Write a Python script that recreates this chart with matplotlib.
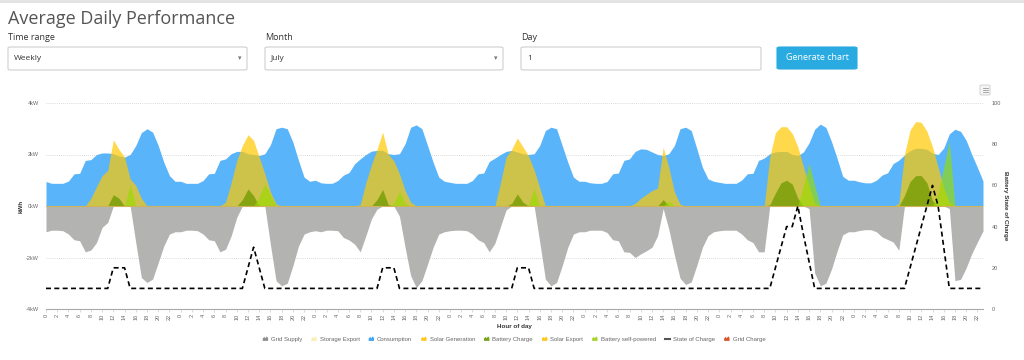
import numpy as np
import matplotlib
matplotlib.use("Agg")
import matplotlib.pyplot as plt
from matplotlib.patches import FancyBboxPatch, Polygon, Patch
from matplotlib.legend_handler import HandlerBase
from matplotlib.lines import Line2D

# hourly values for one week (7 days x 24 h), kW
consumption = [
    0.95, 0.88, 0.88, 0.88, 0.97, 1.25, 1.27, 1.77, 1.80, 2.00, 2.06, 2.06, 2.03, 1.94, 1.90, 2.00, 2.35, 2.85, 3.00, 2.87, 2.35, 1.70, 1.18, 0.96,
    0.96, 0.88, 0.88, 0.88, 0.99, 1.25, 1.27, 1.77, 1.83, 2.03, 2.12, 2.12, 2.03, 2.00, 1.96, 2.03, 2.38, 3.00, 3.06, 3.00, 2.48, 1.77, 1.12, 0.96,
    1.00, 0.90, 0.88, 0.88, 0.99, 1.20, 1.30, 1.64, 1.83, 2.00, 2.13, 2.16, 2.16, 2.03, 2.00, 2.03, 2.42, 3.06, 3.15, 3.00, 2.35, 1.70, 1.12, 0.96,
    0.92, 0.88, 0.88, 0.88, 0.99, 1.25, 1.28, 1.73, 1.86, 2.00, 2.12, 2.16, 2.10, 2.03, 2.00, 2.03, 2.35, 2.93, 3.06, 3.00, 2.35, 1.70, 1.12, 0.96,
    0.96, 0.90, 0.88, 0.88, 0.95, 1.25, 1.28, 1.77, 1.83, 2.12, 2.22, 2.20, 2.10, 2.00, 1.96, 2.03, 2.35, 3.00, 3.06, 2.93, 2.22, 1.50, 1.05, 0.96,
    0.92, 0.88, 0.88, 0.88, 1.01, 1.25, 1.27, 1.77, 1.86, 2.03, 2.10, 2.12, 2.12, 2.00, 1.96, 2.10, 2.45, 2.98, 3.18, 3.05, 2.50, 1.85, 1.15, 1.00,
    1.00, 0.94, 0.90, 0.90, 1.00, 1.20, 1.29, 1.65, 1.78, 1.98, 2.15, 2.24, 2.24, 2.20, 2.05, 2.00, 2.25, 2.80, 2.98, 2.90, 2.55, 2.00, 1.50, 0.97,
]
grid_supply = [
    -1.00, -0.94, -0.94, -0.96, -1.09, -1.31, -1.35, -1.78, -1.71, -1.42, -0.83, -0.64, 0, 0, 0, 0, -1.42, -2.78, -2.97, -2.84, -2.20, -1.55, -1.09, -1.00,
    -1.00, -0.94, -0.94, -0.96, -1.09, -1.31, -1.35, -1.78, -1.68, -1.16, -0.44, 0, 0, 0, 0, 0, -1.50, -2.90, -3.10, -3.00, -2.32, -1.55, -1.09, -1.00,
    -0.96, -1.00, -0.94, -0.94, -0.96, -1.22, -1.32, -1.48, -1.78, -1.16, -0.50, -0.12, 0, 0, 0, -0.40, -1.60, -2.71, -3.17, -2.90, -2.26, -1.60, -1.09, -1.00,
    -0.96, -0.94, -0.94, -0.96, -1.09, -1.31, -1.42, -1.78, -1.45, -0.80, -0.15, 0, 0, 0, 0, 0, -1.40, -2.84, -3.10, -2.97, -2.32, -1.60, -1.09, -1.00,
    -1.00, -0.94, -0.94, -0.94, -1.03, -1.31, -1.35, -1.78, -1.80, -2.00, -1.86, -1.74, -1.60, -1.16, -0.10, -0.90, -1.90, -2.80, -3.05, -2.95, -2.30, -1.60, -1.15, -1.00,
    -0.96, -0.94, -0.94, -0.94, -1.09, -1.31, -1.42, -1.78, -1.78, 0, 0, 0, 0, 0, 0, 0, -0.10, -2.60, -3.10, -3.00, -2.45, -1.75, -1.12, -1.00,
    -1.00, -0.95, -0.92, -0.92, -1.00, -1.20, -1.30, -1.40, -1.72, 0, 0, 0, 0, 0, 0, 0, 0, -0.10, -2.90, -2.85, -2.40, -1.85, -1.40, -0.97,
]
solar_generation = [
    0, 0, 0, 0, 0, 0, 0, 0, 0.30, 0.75, 1.18, 1.38, 2.57, 2.20, 1.90, 1.05, 0.80, 0.30, 0, 0, 0, 0, 0, 0,
    0, 0, 0, 0, 0, 0, 0, 0, 0.15, 0.90, 1.77, 2.35, 2.77, 2.55, 1.90, 1.25, 0.55, 0.08, 0, 0, 0, 0, 0, 0,
    0, 0, 0, 0, 0, 0, 0, 0, 0.05, 0.90, 1.60, 2.20, 2.87, 2.00, 1.75, 1.25, 0.60, 0.15, 0, 0, 0, 0, 0, 0,
    0, 0, 0, 0, 0, 0, 0, 0, 0, 0.90, 1.90, 2.20, 2.64, 2.30, 1.95, 1.40, 0.70, 0, 0, 0, 0, 0, 0, 0,
    0, 0, 0, 0, 0, 0, 0, 0, 0, 0.10, 0.30, 0.45, 0.60, 0.70, 2.28, 1.50, 0.55, 0.07, 0, 0, 0, 0, 0, 0,
    0, 0, 0, 0, 0, 0, 0, 0, 0, 1.90, 2.85, 3.08, 3.08, 2.82, 2.30, 1.52, 0.80, 0.10, 0, 0, 0, 0, 0, 0,
    0, 0, 0, 0, 0, 0, 0, 0, 0.10, 2.00, 2.95, 3.28, 3.25, 2.90, 2.30, 1.50, 0.70, 0.15, 0, 0, 0, 0, 0, 0,
]
battery_charge = [
    0, 0, 0, 0, 0, 0, 0, 0, 0, 0, 0, 0, 0.44, 0.30, 0, 0, 0, 0, 0, 0, 0, 0, 0, 0,
    0, 0, 0, 0, 0, 0, 0, 0, 0, 0, 0, 0.25, 0.66, 0.40, 0, 0, 0, 0, 0, 0, 0, 0, 0, 0,
    0, 0, 0, 0, 0, 0, 0, 0, 0, 0, 0, 0.25, 0.64, 0.05, 0, 0, 0, 0, 0, 0, 0, 0, 0, 0,
    0, 0, 0, 0, 0, 0, 0, 0, 0, 0, 0, 0.10, 0.47, 0.15, 0, 0, 0, 0, 0, 0, 0, 0, 0, 0,
    0, 0, 0, 0, 0, 0, 0, 0, 0, 0, 0, 0, 0, 0, 0.25, 0, 0, 0, 0, 0, 0, 0, 0, 0,
    0, 0, 0, 0, 0, 0, 0, 0, 0, 0.05, 0.50, 0.90, 1.00, 0.85, 0.30, 0, 0, 0, 0, 0, 0, 0, 0, 0,
    0, 0, 0, 0, 0, 0, 0, 0, 0, 0.40, 0.95, 1.18, 1.18, 0.90, 0.20, 0, 0, 0, 0, 0, 0, 0, 0, 0,
]
battery_self_powered = [
    0, 0, 0, 0, 0, 0, 0, 0, 0, 0, 0, 0, 0, 0, 0, 0.82, 0, 0, 0, 0, 0, 0, 0, 0,
    0, 0, 0, 0, 0, 0, 0, 0, 0, 0, 0, 0, 0, 0, 0.35, 0.86, 0.45, 0, 0, 0, 0, 0, 0, 0,
    0, 0, 0, 0, 0, 0, 0, 0, 0, 0, 0, 0, 0, 0, 0.10, 0.57, 0.10, 0, 0, 0, 0, 0, 0, 0,
    0, 0, 0, 0, 0, 0, 0, 0, 0, 0, 0, 0, 0, 0, 0.05, 0.66, 0, 0, 0, 0, 0, 0, 0, 0,
    0, 0, 0, 0, 0, 0, 0, 0, 0, 0, 0, 0, 0, 0, 0, 0.20, 0, 0, 0, 0, 0, 0, 0, 0,
    0, 0, 0, 0, 0, 0, 0, 0, 0, 0, 0, 0, 0, 0, 0, 0.80, 1.65, 0.80, 0, 0, 0, 0, 0, 0,
    0, 0, 0, 0, 0, 0, 0, 0, 0, 0, 0, 0, 0, 0, 0, 0.50, 1.50, 2.50, 0, 0, 0, 0, 0, 0,
]
# battery state of charge, %
state_of_charge = [
    10, 10, 10, 10, 10, 10, 10, 10, 10, 10, 10, 10, 20, 20, 20, 10, 10, 10, 10, 10, 10, 10, 10, 10,
    10, 10, 10, 10, 10, 10, 10, 10, 10, 10, 10, 10, 20, 30, 20, 10, 10, 10, 10, 10, 10, 10, 10, 10,
    10, 10, 10, 10, 10, 10, 10, 10, 10, 10, 10, 10, 20, 20, 20, 10, 10, 10, 10, 10, 10, 10, 10, 10,
    10, 10, 10, 10, 10, 10, 10, 10, 10, 10, 10, 10, 20, 20, 20, 10, 10, 10, 10, 10, 10, 10, 10, 10,
    10, 10, 10, 10, 10, 10, 10, 10, 10, 10, 10, 10, 10, 10, 10, 10, 10, 10, 10, 10, 10, 10, 10, 10,
    10, 10, 10, 10, 10, 10, 10, 10, 10, 10, 20, 30, 40, 40, 50, 36, 23, 10, 10, 10, 10, 10, 10, 10,
    10, 10, 10, 10, 10, 10, 10, 10, 10, 10, 20, 30, 40, 50, 60, 50, 30, 10, 10, 10, 10, 10, 10, 10,
]
hours = np.arange(len(consumption))

series_names = ["Grid Supply", "Storage Export", "Consumption", "Solar Generation",
                "Battery Charge", "Solar Export", "Battery self-powered",
                "State of Charge", "Grid Charge"]
legend_colors = ["#8e8e8e", "#fbeeb4", "#3fa6f4", "#ffc61e", "#78a31a",
                 "#ffc61e", "#a8d12a", "#555555", "#d9542a"]

W, H = 1024, 360
fig = plt.figure(figsize=(W / 100, H / 100), dpi=100)
plt.rcParams['font.family'] = ['Liberation Sans', 'DejaVu Sans']


def fx(x):
    return x / W


def fy(y):
    return 1 - y / H


# ---- page header ----
fig.add_artist(Line2D([0, 1], [fy(1), fy(1)], color="#e2e2e2", lw=2))
fig.text(fx(8), fy(19), "Average Daily Performance", fontsize=13, color="#555555",
         family="Open Sans", va="center", ha="left")
for x, lab in [(8, "Time range"), (265, "Month"), (521, "Day")]:
    fig.text(fx(x), fy(38), lab, fontsize=6.5, color="#333333", family="Open Sans", va="center")

boxes = [(8, 247, "Weekly", True), (265, 503, "July", True), (521, 761, "1", False)]
for x0, x1, txt, arrow in boxes:
    fig.add_artist(FancyBboxPatch((fx(x0), fy(70)), fx(x1 - x0), (70 - 47) / H,
                                  boxstyle="round,pad=0,rounding_size=0.003",
                                  transform=fig.transFigure, facecolor="white",
                                  edgecolor="#cfcfcf", lw=0.8))
    fig.text(fx(x0 + 6), fy(58.5), txt, fontsize=6, color="#333333", family="Open Sans", va="center")
    if arrow:
        fig.text(fx(x1 - 7), fy(58.5), "\u25BE", fontsize=5, color="#777777", va="center", ha="center")

fig.add_artist(FancyBboxPatch((fx(777), fy(69)), fx(80), 22 / H,
                              boxstyle="round,pad=0,rounding_size=0.003",
                              transform=fig.transFigure, facecolor="#29abe2",
                              edgecolor="#29abe2", lw=0.8))
fig.text(fx(817), fy(58), "Generate chart", fontsize=6.5, color="white",
         family="Open Sans", va="center", ha="center")

# export menu button
fig.add_artist(FancyBboxPatch((fx(980), fy(95)), fx(10), 10 / H,
                              boxstyle="round,pad=0,rounding_size=0.002",
                              transform=fig.transFigure, facecolor="#f4f4f4",
                              edgecolor="#cccccc", lw=0.6))
for yy in (88, 90, 92):
    fig.add_artist(Line2D([fx(982.5), fx(987.5)], [fy(yy), fy(yy)], color="#888888", lw=0.5))

# ---- chart ----
ax = fig.add_axes([fx(46), fy(309), fx(983 - 46), (309 - 103) / H])
ax.fill_between(hours, grid_supply, 0, color="#b3b3b1", lw=0, zorder=1)
ax.fill_between(hours, consumption, 0, color="#5ab4fa", lw=0, zorder=2)
ax.fill_between(hours, solar_generation, 0, color="#ffc800", alpha=0.7, lw=0, zorder=3)
ax.fill_between(hours, battery_charge, 0, color="#6e9b00", alpha=0.75, lw=0, zorder=4)
ax.fill_between(hours, battery_self_powered, 0, color="#96dc00", alpha=0.65, lw=0, zorder=5)
ax.axhline(0, color="#cdb45a", lw=0.8, zorder=6)

ax.set_xlim(hours[0], hours[-1])
ax.set_ylim(-4, 4)
ax.set_yticks([-4, -2, 0, 2, 4])
ax.set_yticklabels([f"{v}kW" for v in [-4, -2, 0, 2, 4]])
ax.yaxis.grid(True, color="#cfcfcf", ls=(0, (1, 1.5)), lw=0.6)
ax.set_axisbelow(True)
ax.set_xticks(hours[::2])
ax.set_xticklabels([str(h % 24) for h in hours[::2]], rotation=90)
ax.tick_params(axis="x", labelsize=4, labelcolor="#666666", length=2, color="#cccccc", pad=1.5, width=0.5)
ax.tick_params(axis="y", labelsize=4, labelcolor="#666666", length=0, pad=5)
for s in ("top", "left", "right"):
    ax.spines[s].set_visible(False)
ax.spines["bottom"].set_color("#aaaaaa")
ax.spines["bottom"].set_linewidth(0.8)
ax.set_ylabel("kWh", fontsize=4.5, fontweight="bold", color="#333333", labelpad=2)
ax.set_xlabel("Hour of day", fontsize=4.5, fontweight="bold", color="#333333", labelpad=3)

ax2 = ax.twinx()
ax2.plot(hours, state_of_charge, color="black", lw=1.2, ls=(0, (3, 2)), zorder=7)
ax2.set_ylim(0, 100)
ax2.set_yticks([0, 20, 40, 60, 80, 100])
ax2.tick_params(axis="y", labelsize=4, labelcolor="#666666", length=0, pad=6)
for s in ("top", "left", "right", "bottom"):
    ax2.spines[s].set_visible(False)
ax2.set_ylabel("Battery State of Charge", rotation=270, fontsize=4.5, fontweight="bold",
               color="#333333", labelpad=5)


# ---- legend ----
class AreaIcon(HandlerBase):
    def create_artists(self, legend, orig_handle, xdescent, ydescent, width, height, fontsize, trans):
        x0, y0 = -xdescent, -ydescent
        shape = [(0, 0), (0, 0.5), (0.3, 0.9), (0.5, 0.55), (0.75, 1.0), (1, 0.65), (1, 0)]
        pts = [(x0 + px * width, y0 + py * height) for px, py in shape]
        return [Polygon(pts, closed=True, facecolor=orig_handle.get_facecolor(),
                        edgecolor="none", transform=trans)]


handles = []
for name, c in zip(series_names, legend_colors):
    if name == "State of Charge":
        handles.append(Line2D([], [], color=c, lw=1.5))
    else:
        handles.append(Patch(facecolor=c))
leg = fig.legend(handles, series_names, loc="center", bbox_to_anchor=(fx(514), fy(339)),
                 ncol=len(series_names), fontsize=4.3, frameon=False, handlelength=0.9,
                 handleheight=0.8, handletextpad=0.5, columnspacing=1.5,
                 handler_map={Patch: AreaIcon()})
for t in leg.get_texts():
    t.set_color("#666666")

fig.savefig("out.png", dpi=100)
